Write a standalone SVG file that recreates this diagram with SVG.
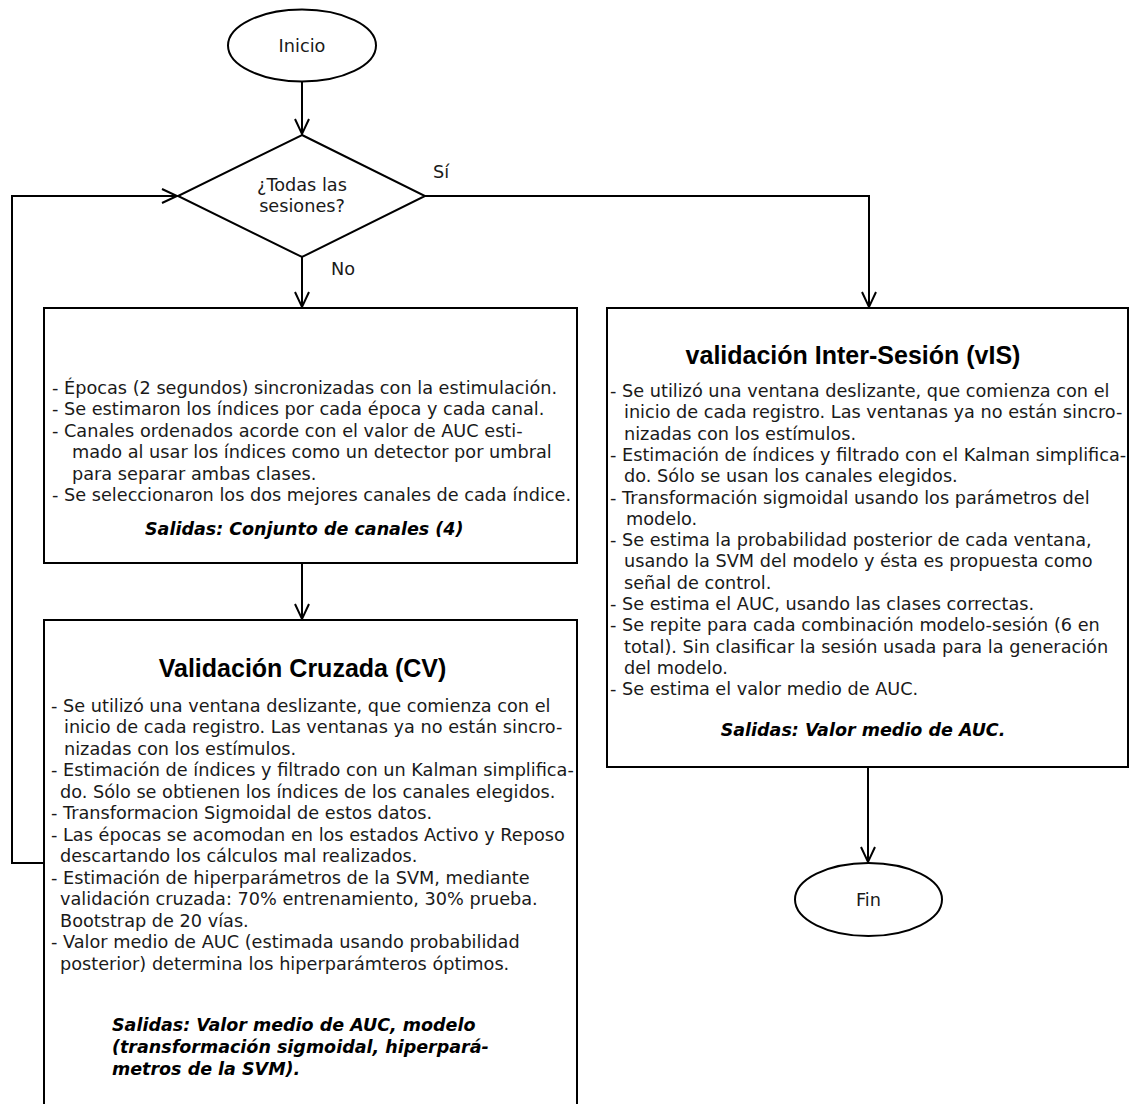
<svg xmlns="http://www.w3.org/2000/svg" width="1130" height="1104" viewBox="0 0 1130 1104">
<style>
.shape{fill:#fff;stroke:#000;stroke-width:2}
.conn{fill:none;stroke:#000;stroke-width:2}
.t{font-family:"DejaVu Sans",Verdana,sans-serif;font-size:17.7px;fill:#1a1a1a}
.c{text-anchor:middle}
.title{font-family:"Liberation Sans",Arial,sans-serif;font-weight:bold;font-size:25px;fill:#000;text-anchor:middle}
.out{font-family:"DejaVu Sans",Verdana,sans-serif;font-size:17.5px;font-weight:bold;font-style:italic;fill:#000}
</style>
<defs>
<marker id="arr" markerUnits="userSpaceOnUse" markerWidth="24" markerHeight="24" viewBox="-20 -12 24 24" refX="0" refY="0" orient="auto">
<path d="M-15,-7 L0,0 L-15,7" fill="none" stroke="#000" stroke-width="2"/>
</marker>
</defs>
<rect width="1130" height="1104" fill="#fff"/>

<g id="connectors">
<line class="conn" x1="302" y1="81" x2="302" y2="134" marker-end="url(#arr)"/>
<line class="conn" x1="302" y1="257" x2="302" y2="307" marker-end="url(#arr)"/>
<polyline class="conn" points="425,196 869,196 869,307" marker-end="url(#arr)"/>
<line class="conn" x1="302" y1="563" x2="302" y2="619" marker-end="url(#arr)"/>
<polyline class="conn" points="44,863 12,863 12,196 177,196" marker-end="url(#arr)"/>
<line class="conn" x1="868" y1="767" x2="868" y2="862" marker-end="url(#arr)"/>
<text class="t" x="433" y="178">Sí</text>
<text class="t" x="331" y="275">No</text>
</g>

<g id="inicio">
<ellipse class="shape" cx="302" cy="45.5" rx="74" ry="36"/>
<text class="t c" x="302" y="52">Inicio</text>
</g>

<g id="decision">
<polygon class="shape" points="302,135 425,196 302,257 178,196"/>
<text class="t c" x="302" y="191">¿Todas las</text>
<text class="t c" x="302" y="212">sesiones?</text>
</g>

<g id="seleccion">
<rect class="shape" x="44" y="308" width="533" height="255"/>
<text class="t" x="52" y="394">- Épocas (2 segundos) sincronizadas con la estimulación.</text>
<text class="t" x="52" y="415.4">- Se estimaron los índices por cada época y cada canal.</text>
<text class="t" x="52" y="436.8">- Canales ordenados acorde con el valor de AUC esti-</text>
<text class="t" x="72" y="458.2">mado al usar los índices como un detector por umbral</text>
<text class="t" x="72" y="479.6">para separar ambas clases.</text>
<text class="t" x="52" y="501">- Se seleccionaron los dos mejores canales de cada índice.</text>
<text class="out" x="145" y="535">Salidas: Conjunto de canales (4)</text>
</g>

<g id="cv">
<rect class="shape" x="44" y="620" width="533" height="500"/>
<text class="title" x="302.5" y="677">Validación Cruzada (CV)</text>
<text class="t" x="51" y="711.6">- Se utilizó una ventana deslizante, que comienza con el</text>
<text class="t" x="64" y="733.1">inicio de cada registro. Las ventanas ya no están sincro-</text>
<text class="t" x="64" y="754.6">nizadas con los estímulos.</text>
<text class="t" x="51" y="776.1">- Estimación de índices y filtrado con un Kalman simplifica-</text>
<text class="t" x="60" y="797.6">do. Sólo se obtienen los índices de los canales elegidos.</text>
<text class="t" x="51" y="819.1">- Transformacion Sigmoidal de estos datos.</text>
<text class="t" x="51" y="840.6">- Las épocas se acomodan en los estados Activo y Reposo</text>
<text class="t" x="60" y="862.1">descartando los cálculos mal realizados.</text>
<text class="t" x="51" y="883.6">- Estimación de hiperparámetros de la SVM, mediante</text>
<text class="t" x="60" y="905.1">validación cruzada: 70% entrenamiento, 30% prueba.</text>
<text class="t" x="60" y="926.6">Bootstrap de 20 vías.</text>
<text class="t" x="51" y="948.1">- Valor medio de AUC (estimada usando probabilidad</text>
<text class="t" x="60" y="969.6">posterior) determina los hiperparámteros óptimos.</text>
<text class="out" x="112" y="1031">Salidas: Valor medio de AUC, modelo</text>
<text class="out" x="112" y="1053">(transformación sigmoidal, hiperpará-</text>
<text class="out" x="112" y="1075">metros de la SVM).</text>
</g>

<g id="vis">
<rect class="shape" x="607" y="308" width="521" height="459"/>
<text class="title" x="853" y="364">validación Inter-Sesión (vIS)</text>
<text class="t" x="610" y="397">- Se utilizó una ventana deslizante, que comienza con el</text>
<text class="t" x="624" y="418.3">inicio de cada registro. Las ventanas ya no están sincro-</text>
<text class="t" x="624" y="439.6">nizadas con los estímulos.</text>
<text class="t" x="610" y="460.9">- Estimación de índices y filtrado con el Kalman simplifica-</text>
<text class="t" x="624" y="482.2">do. Sólo se usan los canales elegidos.</text>
<text class="t" x="610" y="503.5">- Transformación sigmoidal usando los parámetros del</text>
<text class="t" x="626" y="524.8">modelo.</text>
<text class="t" x="610" y="546.1">- Se estima la probabilidad posterior de cada ventana,</text>
<text class="t" x="624" y="567.4">usando la SVM del modelo y ésta es propuesta como</text>
<text class="t" x="624" y="588.7">señal de control.</text>
<text class="t" x="610" y="610">- Se estima el AUC, usando las clases correctas.</text>
<text class="t" x="610" y="631.3">- Se repite para cada combinación modelo-sesión (6 en</text>
<text class="t" x="624" y="652.6">total). Sin clasificar la sesión usada para la generación</text>
<text class="t" x="624" y="673.9">del modelo.</text>
<text class="t" x="610" y="695.2">- Se estima el valor medio de AUC.</text>
<text class="out c" x="863" y="736">Salidas: Valor medio de AUC.</text>
</g>

<g id="fin">
<ellipse class="shape" cx="868.5" cy="899.5" rx="73.5" ry="36.5"/>
<text class="t c" x="868.5" y="906">Fin</text>
</g>
</svg>
